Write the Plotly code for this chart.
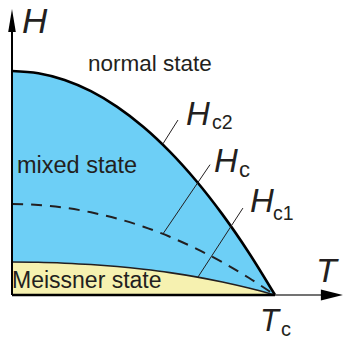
import plotly.graph_objects as go

# ---- data (T in units of Tc, H in units of Hc2(0)) ----
T = [0.0, 0.1, 0.2, 0.3, 0.4, 0.5, 0.6, 0.7, 0.8, 0.9, 1.0]
HC2 = [1.00, 0.99, 0.96, 0.91, 0.84, 0.75, 0.64, 0.51, 0.36, 0.19, 0.00]
HC = [0.406, 0.402, 0.390, 0.369, 0.341, 0.305, 0.260, 0.207, 0.146, 0.077, 0.0]
HC1 = [0.147, 0.146, 0.142, 0.136, 0.127, 0.115, 0.100, 0.081, 0.058, 0.031, 0.0]

# axis extents (data units)
T_AXIS_END = 1.258
H_AXIS_END = 1.277
TC = 1.0

# leader lines: (point on curve) -> (towards label)
LEADERS = [
    ((0.574, 0.675), (0.631, 0.781)),   # Hc2
    ((0.574, 0.273), (0.753, 0.582)),   # Hc
    ((0.707, 0.080), (0.878, 0.388)),   # Hc1
]

W, HGT = 344, 339
FONT = "Liberation Sans, Arial, Helvetica, sans-serif"
TXT = "#231f20"
BLUE = "#6dcff6"
YELLOW = "#f6f1b0"

fig = go.Figure()

# filled regions
fig.add_trace(go.Scatter(x=T, y=HC2, mode="lines", line=dict(color=BLUE, width=0, shape="spline"),
                         fill="tozeroy", fillcolor=BLUE, hoverinfo="skip"))
fig.add_trace(go.Scatter(x=T, y=HC1, mode="lines", line=dict(color=YELLOW, width=0, shape="spline"),
                         fill="tozeroy", fillcolor=YELLOW, hoverinfo="skip"))
# curves
fig.add_trace(go.Scatter(x=T, y=HC, mode="lines",
                         line=dict(color="#231f20", width=2, dash="11px,8px", shape="spline"), hoverinfo="skip"))
fig.add_trace(go.Scatter(x=T, y=HC1, mode="lines",
                         line=dict(color="#231f20", width=1.6, shape="spline"), hoverinfo="skip"))
fig.add_trace(go.Scatter(x=T, y=HC2, mode="lines",
                         line=dict(color="black", width=2.6, shape="spline"), hoverinfo="skip"))

shapes = []
# axes
shapes.append(dict(type="line", x0=0, y0=0, x1=T_AXIS_END - 0.02, y1=0, line=dict(color="#444", width=1.5), layer="above"))
shapes.append(dict(type="line", x0=0, y0=0, x1=TC, y1=0, line=dict(color="black", width=2.6), layer="above"))
shapes.append(dict(type="line", x0=0, y0=0, x1=0, y1=H_AXIS_END - 0.03, line=dict(color="black", width=2), layer="above"))
# arrowheads
shapes.append(dict(type="path", xsizemode="pixel", ysizemode="pixel", xanchor=T_AXIS_END, yanchor=0,
                   path="M0,0 L-22,5.5 L-22,-5.5 Z", fillcolor="black", line=dict(width=0), layer="above"))
shapes.append(dict(type="path", xsizemode="pixel", ysizemode="pixel", xanchor=0, yanchor=H_AXIS_END,
                   path="M0,0 L-3.8,-23 L3.8,-23 Z", fillcolor="black", line=dict(width=0), layer="above"))
# leader lines
for (a, b) in LEADERS:
    shapes.append(dict(type="line", x0=a[0], y0=a[1], x1=b[0], y1=b[1],
                       line=dict(color="#231f20", width=1), layer="above"))


def lab(text, px, py, size, italic=False, xanchor="center"):
    t = f"<i>{text}</i>" if italic else text
    return dict(text=t, x=px / W, y=1 - py / HGT, xref="paper", yref="paper",
                xanchor=xanchor, yanchor="middle", showarrow=False, borderpad=0,
                font=dict(family=FONT, size=size, color=TXT))


annotations = [
    lab("normal state", 150, 63, 22.5),
    lab("mixed state", 16, 165.3, 23.5, xanchor="left"),
    lab("Meissner state", 11, 280.3, 23, xanchor="left"),
    lab("H", 35, 20.8, 35, italic=True),
    lab("T", 327, 270, 34, italic=True),
    lab("H", 198, 113.8, 33, italic=True),
    lab("c2", 222, 122, 19.5),
    lab("H", 226, 160.8, 33, italic=True),
    lab("c", 244, 169.3, 22),
    lab("H", 261.5, 200.8, 33, italic=True),
    lab("c1", 283.5, 213, 19.5),
    lab("T", 270.5, 320.2, 31, italic=True),
    lab("c", 286, 329.4, 20),
]

fig.update_layout(
    width=W, height=HGT, margin=dict(l=0, r=0, t=0, b=0),
    paper_bgcolor="white", plot_bgcolor="white", showlegend=False,
    xaxis=dict(range=[-12 / 263, 332 / 263], visible=False, fixedrange=True),
    yaxis=dict(range=[(295 - 339) / 224, 295 / 224], visible=False, fixedrange=True),
    shapes=shapes, annotations=annotations,
)

fig.write_html("out.html", config={"displayModeBar": False},
               post_script="document.body.style.margin='0px';document.body.style.overflow='hidden';")
